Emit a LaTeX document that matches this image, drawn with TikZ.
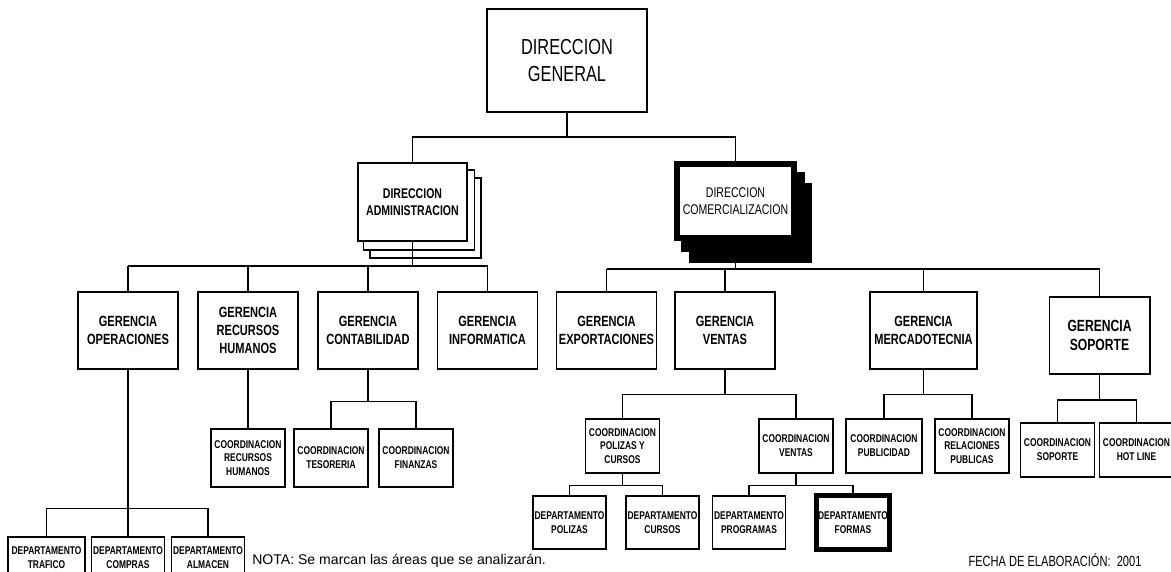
\documentclass[tikz,border=0pt]{standalone}
\usepackage{fontspec}
\usepackage{tikz}
\usetikzlibrary{positioning, calc, backgrounds}
\newfontfamily\narrowsf[FakeStretch=0.75]{Liberation Sans}
\newfontfamily\plainsf{Liberation Sans}

\begin{document}
\begin{tikzpicture}[x=0.025cm, y=-0.025cm,
    box/.style={rectangle, draw, line width=1.1pt, fill=white, align=center,
                inner sep=1pt, minimum width=2.5cm, minimum height=1.925cm},
    gbox/.style={box, font=\narrowsf\bfseries\fontsize{10.5}{12.8}\selectfont},
    cbox/.style={box, minimum width=1.85cm, minimum height=1.35cm,
                 font=\narrowsf\bfseries\fontsize{8}{9.8}\selectfont},
    dbox/.style={cbox, minimum width=1.825cm, minimum height=1.325cm},
    link/.style={line width=0.8pt},
    note/.style={inner sep=0pt}
  ]
  \useasboundingbox (0,0) rectangle (1171,572);
  \clip (0,0) rectangle (1171,572);

  % direcciones
  \node[box, minimum width=4cm, minimum height=2.575cm,
        font=\narrowsf\fontsize{15.5}{18.5}\selectfont] (dg) at (567,60.5) {DIRECCION\\GENERAL};
  \node[box, minimum width=2.725cm, minimum height=1.95cm,
        font=\narrowsf\bfseries\fontsize{10}{12}\selectfont] (dadm) at (412.5,202) {DIRECCION\\ADMINISTRACION};
  \node[box, line width=4.3pt, inner sep=0pt, minimum width=2.925cm, minimum height=1.85cm,
        font=\narrowsf\fontsize{10}{12}\selectfont] (dcom) at (735.5,201) {DIRECCION\\COMERCIALIZACION};
  \begin{scope}[on background layer]
    \foreach \d in {2,1}
      \draw[line width=1.1pt, fill=white] ($(dadm.south west)+(6.5*\d,8*\d)$)
            rectangle ($(dadm.north east)+(6.5*\d,8*\d)$);
    \foreach \d in {2,1}
      \fill ($(dcom.south west)+(7.5*\d,11*\d)$) rectangle ($(dcom.north east)+(7.5*\d,11*\d)$);
  \end{scope}

  % gerencias
  \node[gbox] (gope) at (128,330.5)   {GERENCIA\\OPERACIONES};
  \node[gbox] (grh)  at (248,330.5)   {GERENCIA\\RECURSOS\\HUMANOS};
  \node[gbox] (gcon) at (368,330.5)   {GERENCIA\\CONTABILIDAD};
  \node[gbox] (ginf) at (487.5,330.5) {GERENCIA\\INFORMATICA};
  \node[gbox] (gexp) at (606.5,330.5) {GERENCIA\\EXPORTACIONES};
  \node[gbox] (gven) at (725,330.5)   {GERENCIA\\VENTAS};
  \node[gbox, minimum width=2.675cm] (gmer) at (923.5,330.5) {GERENCIA\\MERCADOTECNIA};
  \node[gbox, line width=1.4pt, font=\narrowsf\bfseries\fontsize{11.5}{14}\selectfont] (gsop) at (1099.5,335.5) {GERENCIA\\SOPORTE};

  % coordinaciones
  \node[cbox, minimum height=1.45cm] (crh)  at (248,458) {COORDINACION\\RECURSOS\\HUMANOS};
  \node[cbox, minimum height=1.45cm] (ctes) at (331,458) {COORDINACION\\TESORERIA};
  \node[cbox, minimum height=1.45cm] (cfin) at (416,458) {COORDINACION\\FINANZAS};
  \node[cbox] (cpol) at (622.5,446) {COORDINACION\\POLIZAS Y\\CURSOS};
  \node[cbox] (cven) at (796,446)   {COORDINACION\\VENTAS};
  \node[cbox, minimum width=1.9cm] (cpub) at (884,446) {COORDINACION\\PUBLICIDAD};
  \node[cbox] (crp)  at (972,446)   {COORDINACION\\RELACIONES\\PUBLICAS};
  \node[cbox] (csop) at (1057.5,450) {COORDINACION\\SOPORTE};
  \node[cbox] (chot) at (1136.5,450) {COORDINACION\\HOT LINE};

  % departamentos
  \node[dbox, minimum width=1.925cm, minimum height=1.05cm] (dtra) at (46.5,558) {DEPARTAMENTO\\TRAFICO};
  \node[dbox, minimum height=1.05cm] (dcmp) at (128,558) {DEPARTAMENTO\\COMPRAS};
  \node[dbox, minimum height=1.05cm] (dalm) at (208,558) {DEPARTAMENTO\\ALMACEN};
  \node[dbox] (dpol) at (569.5,522.5) {DEPARTAMENTO\\POLIZAS};
  \node[dbox] (dcur) at (662.5,522.5) {DEPARTAMENTO\\CURSOS};
  \node[dbox] (dprg) at (749,522.5)   {DEPARTAMENTO\\PROGRAMAS};
  \node[dbox, line width=3.5pt, minimum height=1.35cm] (dfor) at (853,522.5) {DEPARTAMENTO\\FORMAS};

  % lineas
  \coordinate (bus0) at (0,137);
  \coordinate (bus1) at (0,266);
  \coordinate (bus2) at (0,269);
  \draw[link] (dg.south) -- (dg.south |- bus0) -| (dadm.north);
  \draw[link] (dg.south |- bus0) -| (dcom.north);
  \draw[link] (dadm.south) -- (dadm.south |- bus1);
  \draw[link] (dcom.south) -- (dcom.south |- bus2);
  \draw[link] (gope.north |- bus1) -- (ginf.north |- bus1);
  \draw[link] (gexp.north |- bus2) -- (gsop.north |- bus2);
  \foreach \g in {gope,grh,gcon,ginf}
    \draw[link] (\g.north) -- (\g.north |- bus1);
  \foreach \g in {gexp,gven,gmer,gsop}
    \draw[link] (\g.north) -- (\g.north |- bus2);
  \draw[link] (grh.south) -- (crh.north);
  \foreach \c in {ctes,cfin}
    \draw[link] (gcon.south) -- ++(0,32) -| (\c.north);
  \foreach \c in {dtra,dcmp,dalm}
    \draw[link] (gope.south) -- ++(0,139) -| (\c.north);
  \foreach \c in {cpol,cven}
    \draw[link] (gven.south) -- ++(0,25) -| (\c.north);
  \foreach \c in {cpub,crp}
    \draw[link] (gmer.south) -- ++(0,25) -| (\c.north);
  \foreach \c in {csop,chot}
    \draw[link] (gsop.south) -- ++(0,25) -| (\c.north);
  \foreach \c in {dpol,dcur}
    \draw[link] (cpol.south) -- ++(0,12) -| (\c.north);
  \foreach \c in {dprg,dfor}
    \draw[link] (cven.south) -- ++(0,12) -| (\c.north);

  % notas
  \node[note, anchor=west, font=\plainsf\fontsize{10}{12}\selectfont] (nota) at (252,561)
        {NOTA: Se marcan las áreas que se analizarán.};
  \node[note, font=\narrowsf\fontsize{10.5}{12}\selectfont] (fecha) at (1055,560)
        {FECHA DE ELABORACIÓN:\ \ 2001};
\end{tikzpicture}
\end{document}
